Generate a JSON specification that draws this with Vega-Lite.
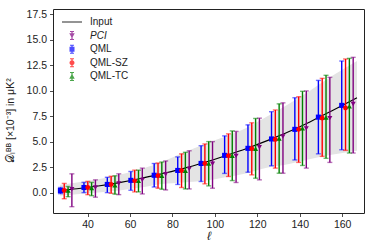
{
  "$schema": "https://vega.github.io/schema/vega-lite/v6.json",
  "autosize": {"type": "none"},
  "padding": {"left": 53, "top": 9, "right": 10, "bottom": 36},
  "width": 311,
  "height": 204,
  "config": {
    "font": "Liberation Sans",
    "view": {"stroke": "#222", "strokeWidth": 1},
    "axis": {
      "domain": false, "grid": false, "tickColor": "#222", "tickSize": 3.5, "tickWidth": 0.8,
      "labelFontSize": 10.5, "labelColor": "#222", "labelFont": "Liberation Sans", "labelOverlap": false, "labelFlush": false,
      "titleFont": "Liberation Sans", "titleFontWeight": "normal", "titleColor": "#222", "labelPadding": 3
    },
    "legend": {
      "orient": "none", "legendX": 14, "legendY": 8, "padding": 0,
      "labelFontSize": 10, "labelFont": "Liberation Sans", "labelColor": "#222",
      "symbolSize": 100, "labelOffset": 13, "rowPadding": 3.6, "symbolStrokeWidth": 0,
      "labelFontStyle": {"expr": "datum.label === 'PCI' ? 'italic' : 'normal'"}
    }
  },
  "datasets": {
    "input": [
      {"l": 27, "v": 0.22, "lo": -0.32, "hi": 0.78},
      {"l": 35, "v": 0.38, "lo": -0.15, "hi": 1.0},
      {"l": 45, "v": 0.65, "lo": 0.0, "hi": 1.3},
      {"l": 55, "v": 0.98, "lo": 0.2, "hi": 1.75},
      {"l": 65, "v": 1.38, "lo": 0.5, "hi": 2.3},
      {"l": 75, "v": 1.85, "lo": 0.85, "hi": 3.0},
      {"l": 85, "v": 2.35, "lo": 1.0, "hi": 3.9},
      {"l": 95, "v": 2.95, "lo": 1.15, "hi": 4.75},
      {"l": 105, "v": 3.62, "lo": 1.5, "hi": 5.5},
      {"l": 115, "v": 4.33, "lo": 1.9, "hi": 6.35},
      {"l": 125, "v": 5.12, "lo": 2.45, "hi": 7.5},
      {"l": 135, "v": 5.98, "lo": 2.8, "hi": 8.7},
      {"l": 145, "v": 6.95, "lo": 3.3, "hi": 10.0},
      {"l": 155, "v": 8.0, "lo": 3.7, "hi": 11.4},
      {"l": 167, "v": 9.3, "lo": 4.1, "hi": 12.9}
    ],
    "pts": [
      {"series": "QML", "l": 27.2, "y": 0.2, "lo": -0.1, "hi": 0.5},
      {"series": "QML", "l": 38.3, "y": 0.5, "lo": 0.0, "hi": 1.0},
      {"series": "QML", "l": 49.3, "y": 0.8, "lo": 0.0, "hi": 1.5},
      {"series": "QML", "l": 60.4, "y": 1.2, "lo": 0.23, "hi": 2.07},
      {"series": "QML", "l": 71.4, "y": 1.7, "lo": 0.55, "hi": 2.85},
      {"series": "QML", "l": 82.5, "y": 2.17, "lo": 0.8, "hi": 3.5},
      {"series": "QML", "l": 93.5, "y": 2.86, "lo": 1.09, "hi": 4.6},
      {"series": "QML", "l": 104.6, "y": 3.65, "lo": 1.88, "hi": 5.56},
      {"series": "QML", "l": 115.6, "y": 4.34, "lo": 2.0, "hi": 6.64},
      {"series": "QML", "l": 126.7, "y": 5.26, "lo": 2.63, "hi": 7.93},
      {"series": "QML", "l": 137.7, "y": 6.2, "lo": 3.2, "hi": 9.3},
      {"series": "QML", "l": 148.8, "y": 7.4, "lo": 3.8, "hi": 11.0},
      {"series": "QML", "l": 159.8, "y": 8.55, "lo": 4.2, "hi": 12.9},
      {"series": "QML-SZ", "l": 29.0, "y": 0.2, "lo": -0.6, "hi": 0.9},
      {"series": "QML-SZ", "l": 40.1, "y": 0.5, "lo": -0.2, "hi": 1.1},
      {"series": "QML-SZ", "l": 51.1, "y": 0.8, "lo": -0.07, "hi": 1.6},
      {"series": "QML-SZ", "l": 62.2, "y": 1.15, "lo": 0.07, "hi": 2.2},
      {"series": "QML-SZ", "l": 73.2, "y": 1.65, "lo": 0.43, "hi": 2.9},
      {"series": "QML-SZ", "l": 84.3, "y": 2.15, "lo": 0.5, "hi": 3.8},
      {"series": "QML-SZ", "l": 95.3, "y": 2.86, "lo": 0.86, "hi": 4.77},
      {"series": "QML-SZ", "l": 106.4, "y": 3.62, "lo": 1.58, "hi": 5.76},
      {"series": "QML-SZ", "l": 117.4, "y": 4.3, "lo": 1.74, "hi": 6.84},
      {"series": "QML-SZ", "l": 128.5, "y": 5.2, "lo": 2.4, "hi": 8.1},
      {"series": "QML-SZ", "l": 139.5, "y": 6.2, "lo": 2.96, "hi": 9.4},
      {"series": "QML-SZ", "l": 150.6, "y": 7.3, "lo": 3.55, "hi": 11.2},
      {"series": "QML-SZ", "l": 161.6, "y": 8.3, "lo": 4.14, "hi": 13.1},
      {"series": "QML-TC", "l": 30.8, "y": 0.2, "lo": -0.4, "hi": 0.6},
      {"series": "QML-TC", "l": 41.9, "y": 0.45, "lo": -0.3, "hi": 1.0},
      {"series": "QML-TC", "l": 52.9, "y": 0.72, "lo": -0.15, "hi": 1.65},
      {"series": "QML-TC", "l": 64.0, "y": 1.15, "lo": 0.07, "hi": 2.2},
      {"series": "QML-TC", "l": 75.0, "y": 1.65, "lo": 0.33, "hi": 3.0},
      {"series": "QML-TC", "l": 86.1, "y": 2.15, "lo": 0.36, "hi": 3.95},
      {"series": "QML-TC", "l": 97.1, "y": 2.85, "lo": 0.66, "hi": 5.0},
      {"series": "QML-TC", "l": 108.2, "y": 3.62, "lo": 1.18, "hi": 6.05},
      {"series": "QML-TC", "l": 119.2, "y": 4.3, "lo": 1.41, "hi": 7.27},
      {"series": "QML-TC", "l": 130.3, "y": 5.3, "lo": 1.9, "hi": 8.7},
      {"series": "QML-TC", "l": 141.3, "y": 6.3, "lo": 2.66, "hi": 9.93},
      {"series": "QML-TC", "l": 152.4, "y": 7.37, "lo": 3.36, "hi": 11.5},
      {"series": "QML-TC", "l": 163.4, "y": 8.45, "lo": 3.88, "hi": 13.16},
      {"series": "PCI", "l": 32.6, "y": 0.33, "lo": -1.38, "hi": 1.84},
      {"series": "PCI", "l": 43.7, "y": 0.5, "lo": -0.45, "hi": 1.25},
      {"series": "PCI", "l": 54.7, "y": 0.9, "lo": -0.2, "hi": 1.84},
      {"series": "PCI", "l": 65.8, "y": 1.25, "lo": -0.13, "hi": 2.4},
      {"series": "PCI", "l": 76.8, "y": 1.8, "lo": 0.26, "hi": 3.1},
      {"series": "PCI", "l": 87.9, "y": 2.33, "lo": 0.36, "hi": 4.1},
      {"series": "PCI", "l": 98.9, "y": 2.83, "lo": 0.43, "hi": 5.0},
      {"series": "PCI", "l": 110.0, "y": 3.6, "lo": 0.99, "hi": 6.0},
      {"series": "PCI", "l": 121.0, "y": 4.44, "lo": 1.25, "hi": 7.3},
      {"series": "PCI", "l": 132.1, "y": 5.5, "lo": 1.9, "hi": 8.8},
      {"series": "PCI", "l": 143.1, "y": 6.3, "lo": 2.4, "hi": 9.97},
      {"series": "PCI", "l": 154.2, "y": 7.3, "lo": 2.96, "hi": 11.3},
      {"series": "PCI", "l": 165.2, "y": 8.68, "lo": 3.88, "hi": 13.26}
    ],
    "legend": [
      {"series": "Input"}, {"series": "PCI"}, {"series": "QML"}, {"series": "QML-SZ"}, {"series": "QML-TC"}
    ]
  },
  "encoding": {
    "x": {
      "field": "l", "type": "quantitative", "title": "ℓ",
      "scale": {"domain": [23.7, 170.3], "nice": false, "zero": false},
      "axis": {"values": [40, 60, 80, 100, 120, 140, 160], "format": "d", "titleFontStyle": "italic", "titleFontSize": 12, "titlePadding": 0}
    }
  },
  "layer": [
    {
      "data": {"name": "input"},
      "mark": {"type": "area", "fill": "#e4e4e4", "fillOpacity": 1, "strokeWidth": 0, "interpolate": "monotone"},
      "encoding": {
        "y": {"field": "lo", "type": "quantitative", "title": "𝒟ₗᴮᴮ [×10⁻³] in μK²", "scale": {"domain": [-2, 18], "nice": false, "zero": false}, "axis": {"values": [0, 2.5, 5, 7.5, 10, 12.5, 15, 17.5], "format": ".1f", "titleX": -43, "titleY": 111, "titleAlign": "center", "titleBaseline": "middle", "titleAngle": -90, "titleFontSize": 10.5}},
        "y2": {"field": "hi"}
      }
    },
    {
      "data": {"name": "input"},
      "mark": {"type": "line", "color": "black", "strokeWidth": 1.1, "interpolate": "monotone"},
      "encoding": {
        "y": {"field": "v", "type": "quantitative", "title": "𝒟ₗᴮᴮ [×10⁻³] in μK²", "scale": {"domain": [-2, 18], "nice": false, "zero": false}, "axis": {"values": [0, 2.5, 5, 7.5, 10, 12.5, 15, 17.5], "format": ".1f", "titleX": -43, "titleY": 111, "titleAlign": "center", "titleBaseline": "middle", "titleAngle": -90, "titleFontSize": 10.5}}
      }
    },
    {
      "data": {"name": "pts"},
      "transform": [{"filter": "datum.series === 'PCI'"}],
      "mark": {"type": "errorbar", "color": "purple", "thickness": 1.4, "ticks": {"size": 5, "opacity": 0.55}},
      "encoding": {
        "y": {"field": "lo", "type": "quantitative", "title": "𝒟ₗᴮᴮ [×10⁻³] in μK²", "scale": {"domain": [-2, 18], "nice": false, "zero": false}, "axis": {"values": [0, 2.5, 5, 7.5, 10, 12.5, 15, 17.5], "format": ".1f", "titleX": -43, "titleY": 111, "titleAlign": "center", "titleBaseline": "middle", "titleAngle": -90, "titleFontSize": 10.5}},
        "y2": {"field": "hi"}
      }
    },
    {
      "data": {"name": "pts"},
      "transform": [{"filter": "datum.series === 'PCI'"}],
      "mark": {"type": "point", "filled": true, "shape": "triangle-down", "size": 26, "color": "purple", "opacity": 1},
      "encoding": {
        "y": {"field": "y", "type": "quantitative", "title": "𝒟ₗᴮᴮ [×10⁻³] in μK²", "scale": {"domain": [-2, 18], "nice": false, "zero": false}, "axis": {"values": [0, 2.5, 5, 7.5, 10, 12.5, 15, 17.5], "format": ".1f", "titleX": -43, "titleY": 111, "titleAlign": "center", "titleBaseline": "middle", "titleAngle": -90, "titleFontSize": 10.5}}
      }
    },
    {
      "data": {"name": "pts"},
      "transform": [{"filter": "datum.series === 'QML'"}],
      "mark": {"type": "errorbar", "color": "blue", "thickness": 1.4, "ticks": {"size": 5, "opacity": 0.55}},
      "encoding": {
        "y": {"field": "lo", "type": "quantitative", "title": "𝒟ₗᴮᴮ [×10⁻³] in μK²", "scale": {"domain": [-2, 18], "nice": false, "zero": false}, "axis": {"values": [0, 2.5, 5, 7.5, 10, 12.5, 15, 17.5], "format": ".1f", "titleX": -43, "titleY": 111, "titleAlign": "center", "titleBaseline": "middle", "titleAngle": -90, "titleFontSize": 10.5}},
        "y2": {"field": "hi"}
      }
    },
    {
      "data": {"name": "pts"},
      "transform": [{"filter": "datum.series === 'QML'"}],
      "mark": {"type": "point", "filled": true, "shape": "square", "size": 26, "color": "blue", "opacity": 1},
      "encoding": {
        "y": {"field": "y", "type": "quantitative", "title": "𝒟ₗᴮᴮ [×10⁻³] in μK²", "scale": {"domain": [-2, 18], "nice": false, "zero": false}, "axis": {"values": [0, 2.5, 5, 7.5, 10, 12.5, 15, 17.5], "format": ".1f", "titleX": -43, "titleY": 111, "titleAlign": "center", "titleBaseline": "middle", "titleAngle": -90, "titleFontSize": 10.5}}
      }
    },
    {
      "data": {"name": "pts"},
      "transform": [{"filter": "datum.series === 'QML-SZ'"}],
      "mark": {"type": "errorbar", "color": "red", "thickness": 1.4, "ticks": {"size": 5, "opacity": 0.55}},
      "encoding": {
        "y": {"field": "lo", "type": "quantitative", "title": "𝒟ₗᴮᴮ [×10⁻³] in μK²", "scale": {"domain": [-2, 18], "nice": false, "zero": false}, "axis": {"values": [0, 2.5, 5, 7.5, 10, 12.5, 15, 17.5], "format": ".1f", "titleX": -43, "titleY": 111, "titleAlign": "center", "titleBaseline": "middle", "titleAngle": -90, "titleFontSize": 10.5}},
        "y2": {"field": "hi"}
      }
    },
    {
      "data": {"name": "pts"},
      "transform": [{"filter": "datum.series === 'QML-SZ'"}],
      "mark": {"type": "point", "filled": true, "shape": "circle", "size": 24, "color": "red", "opacity": 1},
      "encoding": {
        "y": {"field": "y", "type": "quantitative", "title": "𝒟ₗᴮᴮ [×10⁻³] in μK²", "scale": {"domain": [-2, 18], "nice": false, "zero": false}, "axis": {"values": [0, 2.5, 5, 7.5, 10, 12.5, 15, 17.5], "format": ".1f", "titleX": -43, "titleY": 111, "titleAlign": "center", "titleBaseline": "middle", "titleAngle": -90, "titleFontSize": 10.5}}
      }
    },
    {
      "data": {"name": "pts"},
      "transform": [{"filter": "datum.series === 'QML-TC'"}],
      "mark": {"type": "errorbar", "color": "green", "thickness": 1.4, "ticks": {"size": 5, "opacity": 0.55}},
      "encoding": {
        "y": {"field": "lo", "type": "quantitative", "title": "𝒟ₗᴮᴮ [×10⁻³] in μK²", "scale": {"domain": [-2, 18], "nice": false, "zero": false}, "axis": {"values": [0, 2.5, 5, 7.5, 10, 12.5, 15, 17.5], "format": ".1f", "titleX": -43, "titleY": 111, "titleAlign": "center", "titleBaseline": "middle", "titleAngle": -90, "titleFontSize": 10.5}},
        "y2": {"field": "hi"}
      }
    },
    {
      "data": {"name": "pts"},
      "transform": [{"filter": "datum.series === 'QML-TC'"}],
      "mark": {"type": "point", "filled": true, "shape": "triangle-up", "size": 26, "color": "green", "opacity": 1},
      "encoding": {
        "y": {"field": "y", "type": "quantitative", "title": "𝒟ₗᴮᴮ [×10⁻³] in μK²", "scale": {"domain": [-2, 18], "nice": false, "zero": false}, "axis": {"values": [0, 2.5, 5, 7.5, 10, 12.5, 15, 17.5], "format": ".1f", "titleX": -43, "titleY": 111, "titleAlign": "center", "titleBaseline": "middle", "titleAngle": -90, "titleFontSize": 10.5}}
      }
    },
    {
      "data": {"name": "legend"},
      "mark": {"type": "point", "filled": true},
      "encoding": {
        "color": {
          "field": "series", "type": "nominal", "title": null,
          "scale": {"domain": ["Input", "PCI", "QML", "QML-SZ", "QML-TC"], "range": ["black", "purple", "blue", "red", "green"]}
        },
        "shape": {
          "field": "series", "type": "nominal", "title": null,
          "scale": {
            "domain": ["Input", "PCI", "QML", "QML-SZ", "QML-TC"],
            "range": [
              "M-2,-0.12H2V0.12H-2Z",
              "M0,0.55L-0.55,-0.45H0.55Z M-0.13,-0.8H0.13V0.8H-0.13Z M-0.4,-0.9H0.4V-0.7H-0.4Z M-0.4,0.7H0.4V0.9H-0.4Z",
              "M-0.5,-0.5H0.5V0.5H-0.5Z M-0.13,-0.8H0.13V0.8H-0.13Z M-0.4,-0.9H0.4V-0.7H-0.4Z M-0.4,0.7H0.4V0.9H-0.4Z",
              "M-0.5,0A0.5,0.5 0 1 1 0.5,0A0.5,0.5 0 1 1 -0.5,0Z M-0.13,-0.8H0.13V0.8H-0.13Z M-0.4,-0.9H0.4V-0.7H-0.4Z M-0.4,0.7H0.4V0.9H-0.4Z",
              "M0,-0.55L0.55,0.45H-0.55Z M-0.13,-0.8H0.13V0.8H-0.13Z M-0.4,-0.9H0.4V-0.7H-0.4Z M-0.4,0.7H0.4V0.9H-0.4Z"
            ]
          }
        }
      }
    }
  ]
}
